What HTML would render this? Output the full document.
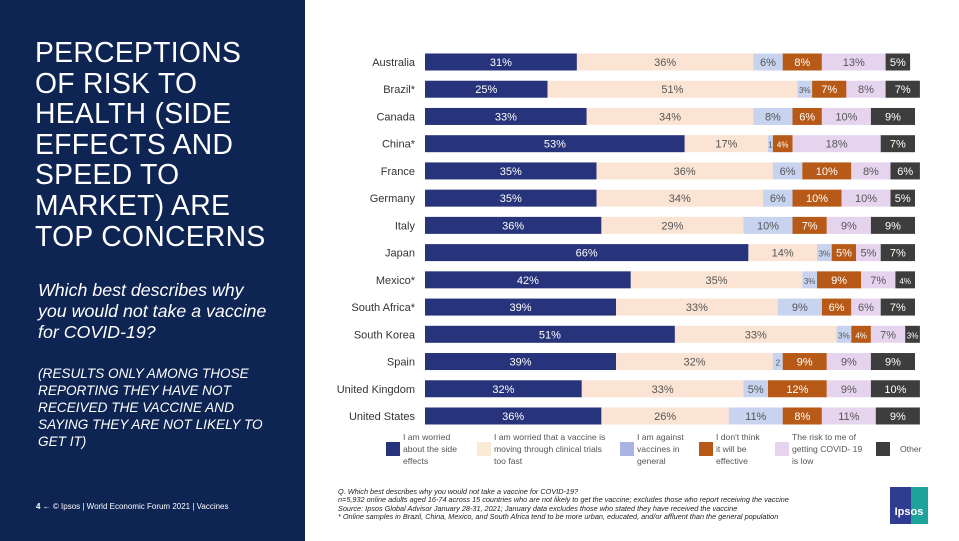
<!DOCTYPE html>
<html><head><meta charset="utf-8"><style>
body{margin:0;width:959px;height:541px;background:#fff;font-family:"Liberation Sans",sans-serif;position:relative;overflow:hidden}
#left{position:absolute;left:0;top:0;width:305px;height:541px;background:#0e2453;color:#fff}
.t{position:absolute;left:35px;top:37px;font-size:28.3px;line-height:30.6px;letter-spacing:0.3px}
.s{position:absolute;left:38px;top:280px;font-size:17.8px;line-height:21px;font-style:italic}
.c{position:absolute;left:38px;top:365px;font-size:13.6px;line-height:17px;font-style:italic}
.f{position:absolute;left:36px;top:502px;font-size:8px}
.fn{position:absolute;left:338px;top:488px;font-size:7.3px;line-height:8.4px;font-style:italic;color:#222}
.lg{position:absolute;font-size:8.6px;line-height:12px;color:#555}
.sw{position:absolute;width:14px;height:14px}
</style></head><body>
<div id="left">
<div class="t">PERCEPTIONS<br>OF RISK TO<br>HEALTH (SIDE<br>EFFECTS AND<br>SPEED TO<br>MARKET) ARE<br>TOP CONCERNS</div>
<div class="s">Which best describes why<br>you would not take a vaccine<br>for COVID-19?</div>
<div class="c">(RESULTS ONLY AMONG THOSE<br>REPORTING THEY HAVE NOT<br>RECEIVED THE VACCINE AND<br>SAYING THEY ARE NOT LIKELY TO<br>GET IT)</div>
<div class="f"><b>4</b> ← © Ipsos | World Economic Forum 2021 | Vaccines</div>
</div>
<svg id="chart" width="959" height="541" style="position:absolute;left:0;top:0"></svg>
<div class="sw" style="left:386px;top:442px;background:#27337a"></div>
<div class="lg" style="left:403px;top:431px">I am worried<br>about the side<br>effects</div>
<div class="sw" style="left:477px;top:442px;background:#fbebd6"></div>
<div class="lg" style="left:494px;top:431px">I am worried that a vaccine is<br>moving through clinical trials<br>too fast</div>
<div class="sw" style="left:620px;top:442px;background:#a9b4e2"></div>
<div class="lg" style="left:637px;top:431px">I am against<br>vaccines in<br>general</div>
<div class="sw" style="left:699px;top:442px;background:#b85a17"></div>
<div class="lg" style="left:716px;top:431px">I don't think<br>it will be<br>effective</div>
<div class="sw" style="left:775px;top:442px;background:#e6d4ef"></div>
<div class="lg" style="left:792px;top:431px">The risk to me of<br>getting COVID- 19<br>is low</div>
<div class="sw" style="left:876px;top:442px;background:#3d3d3d"></div>
<div class="lg" style="left:900px;top:443px">Other</div>
<div class="fn">Q. Which best describes why you would not take a vaccine for COVID-19?<br>n=5,932 online adults aged 16-74 across 15 countries who are not likely to get the vaccine; excludes those who report receiving the vaccine<br>Source: Ipsos Global Advisor January 28-31, 2021; January data excludes those who stated they have received the vaccine<br>* Online samples in Brazil, China, Mexico, and South Africa tend to be more urban, educated, and/or affluent than the general population</div>
<div style="position:absolute;left:890px;top:487px;width:38px;height:37px;background:linear-gradient(90deg,#2e3d8f 55%,#1ea39b 55%);color:#fff;font-size:11px;font-weight:bold;text-align:center;line-height:50px">Ipsos</div>
<script>
const countries=["Australia","Brazil*","Canada","China*","France","Germany","Italy","Japan","Mexico*","South Africa*","South Korea","Spain","United Kingdom","United States"];
const sideEffects=[31,25,33,53,35,35,36,66,42,39,51,39,32,36];
const tooFast=[36,51,34,17,36,34,29,14,35,33,33,32,33,26];
const against=[6,3,8,1,6,6,10,3,3,9,3,2,5,11];
const notEffective=[8,7,6,4,10,10,7,5,9,6,4,9,12,8];
const riskLow=[13,8,10,18,8,10,9,5,7,6,7,9,9,11];
const other=[5,7,9,7,6,5,9,7,4,7,3,9,10,9];
const series=[sideEffects,tooFast,against,notEffective,riskLow,other];
const names=["side-effects","too-fast","against","not-effective","risk-low","other"];
const colors=["#27337a","#fbe4d4","#c7d3ef","#b85a17","#e6d4ef","#3d3d3d"];
const txt=["#fff","#555","#555","#fff","#555","#fff"];
const svg=document.getElementById('chart');const NS="http://www.w3.org/2000/svg";
const x0=425,sc=4.9;
const xs=v=>x0+v*sc;
const yc=i=>62+i*27.23;
countries.forEach((c,i)=>{
 const t=document.createElementNS(NS,'text');
 
 
 t.setAttribute('x',415);t.setAttribute('y',yc(i)+4);t.setAttribute('text-anchor','end');
 t.setAttribute('font-size','11');t.setAttribute('fill','#333');t.textContent=c;svg.appendChild(t);
 let acc=0;
 series.forEach((s,k)=>{
  const v=s[i];
  const r=document.createElementNS(NS,'rect');
  
  
  r.setAttribute('x',xs(acc));r.setAttribute('y',yc(i)-8.5);r.setAttribute('width',v*sc);r.setAttribute('height',17);r.setAttribute('fill',colors[k]);svg.appendChild(r);
  const l=document.createElementNS(NS,'text');
  
  
  l.setAttribute('x',xs(acc+v/2));l.setAttribute('y',yc(i)+4);l.setAttribute('text-anchor','middle');
  const small=v<=4;
  l.setAttribute('font-size',small?'8':'11');l.setAttribute('fill',txt[k]);
  l.textContent=(v<=2)?String(v):v+'%';svg.appendChild(l);
  acc+=v;
 });
});
</script>
</body></html>
